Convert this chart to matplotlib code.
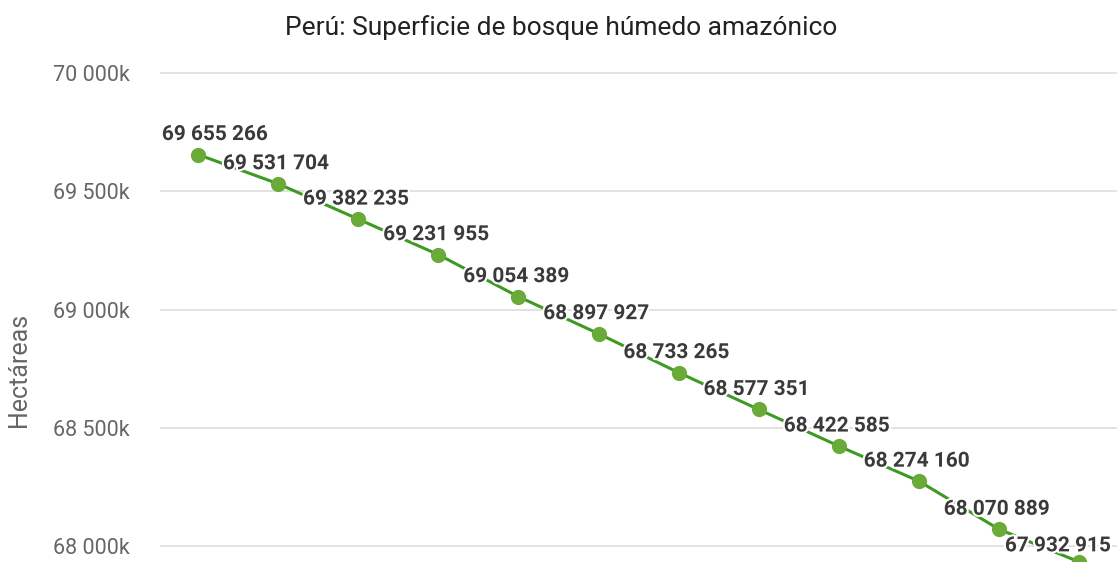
import numpy as np
import matplotlib.pyplot as plt
import matplotlib.patheffects as pe

plt.rcParams['font.family'] = ['Roboto', 'DejaVu Sans']

# Data
years = [2001, 2002, 2003, 2004, 2005, 2006, 2007, 2008, 2009, 2010, 2011, 2012]
hectares = [69655266, 69531704, 69382235, 69231955, 69054389, 68897927,
            68733265, 68577351, 68422585, 68274160, 68070889, 67932915]
yticks = [68000000, 68500000, 69000000, 69500000, 70000000]
ytick_labels = ["68 000k", "68 500k", "69 000k", "69 500k", "70 000k"]

W, H = 1117, 562
fig = plt.figure(figsize=(W / 100, H / 100), dpi=100)

# axes placed in pixel terms: left at 160 px, top at 60 px, running off the bottom/right edge
ax = fig.add_axes([160 / W, 0, 1 - 160 / W, (H - 60) / H])

x = np.arange(len(years))
ax.plot(x, hectares, color='#3d9a22', lw=2.2, zorder=3)
ax.scatter(x, hectares, s=120, color='#6aaa38', zorder=4, linewidths=0)

def fmt(v):
    return f"{v:,}".replace(",", " ")

# label offsets in pixels (first and last pushed inward like the original)
for i, v in enumerate(hectares):
    dx, dy = -2, 20
    if i == 0:
        dx = 17
    elif i == len(hectares) - 1:
        dx, dy = -21, 16
    ax.annotate(fmt(v), (x[i], v), xytext=(dx, dy), textcoords='offset pixels',
                ha='center', va='center', fontsize=15, fontweight='bold', color='#3a3a3a',
                zorder=5, path_effects=[pe.withStroke(linewidth=3, foreground='white')])

px_per_unit = 118.3 / 500000
ax.set_ylim(68000000 - 16 / px_per_unit, 70000000 + 13 / px_per_unit)
ax.set_xlim(-38 / 80.1, (W - 198) / 80.1)

ax.set_yticks(yticks)
ax.set_yticklabels(ytick_labels, fontsize=15.5, color='#666666')
ax.tick_params(axis='y', length=0, pad=21.6)
ax.set_xticks([])
ax.grid(axis='y', color='#dddddd', lw=1.2)
ax.set_axisbelow(True)
for s in ax.spines.values():
    s.set_visible(False)

fig.text(561 / W, 1 - 28 / H, "Perú: Superficie de bosque húmedo amazónico",
         ha='center', va='center', fontsize=19, color='#222222')
fig.text(19 / W, 1 - 370 / H, "Hectáreas", rotation=90, ha='center', va='center',
         fontsize=18, color='#666666')

fig.savefig('out.png', dpi=100)
